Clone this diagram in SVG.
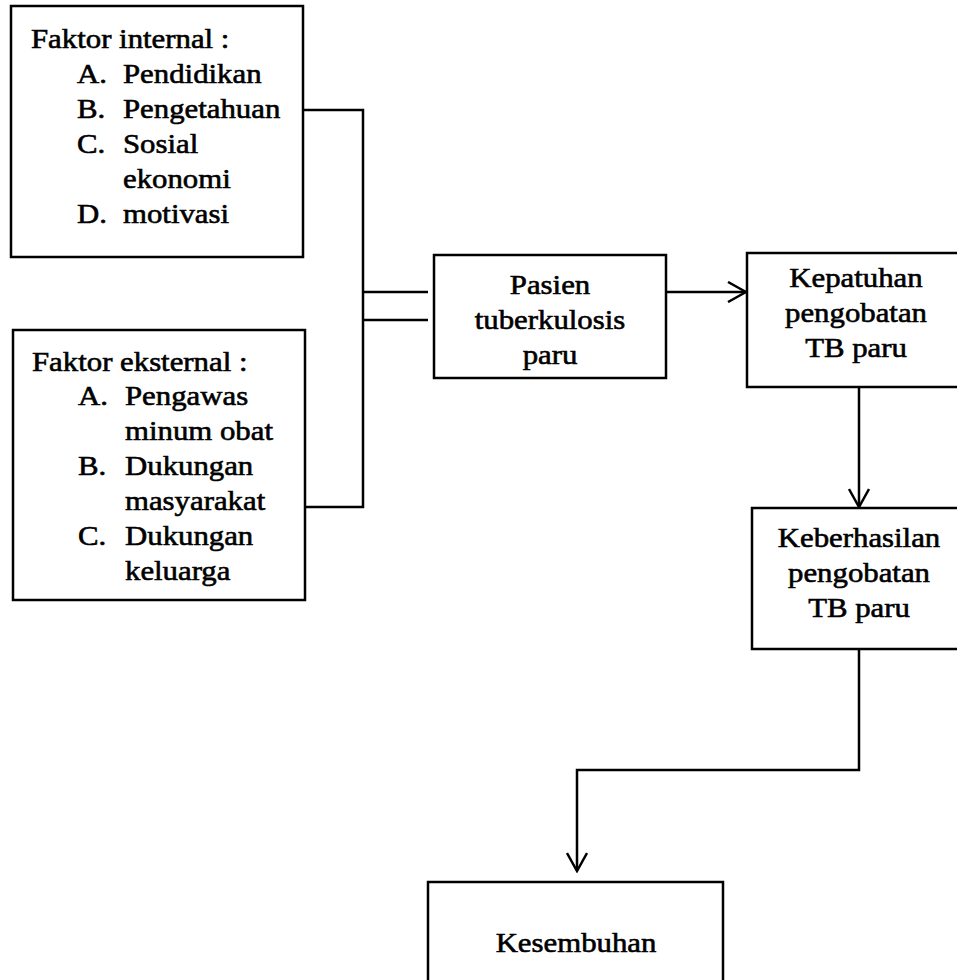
<svg xmlns="http://www.w3.org/2000/svg" width="957" height="980" viewBox="0 0 957 980">
<style>
.box { fill: #fff; stroke: #000; stroke-width: 2.5; }
.t { font-family: "Liberation Serif", "Times New Roman", serif; font-size: 28px; fill: #000; stroke: #000; stroke-width: 0.6; }
.c { text-anchor: middle; }
.ln { fill: none; stroke: #000; stroke-width: 2.5; }
</style>
<defs>
<marker id="arr" viewBox="0 0 22 22" refX="20" refY="11" markerWidth="22" markerHeight="22" markerUnits="userSpaceOnUse" orient="auto">
<path d="M2,1 L20,11 L2,21" fill="none" stroke="#000" stroke-width="2.5"/>
</marker>
</defs>
<rect width="957" height="980" fill="#fff"/>

<g id="connectors">
<polyline class="ln" points="303,110 363,110 363,507 305,507"/>
<line class="ln" x1="363" y1="292" x2="428" y2="292"/>
<line class="ln" x1="363" y1="320" x2="428" y2="320"/>
<line class="ln" x1="666" y1="292" x2="746" y2="292" marker-end="url(#arr)"/>
<line class="ln" x1="859" y1="387" x2="859" y2="507" marker-end="url(#arr)"/>
<polyline class="ln" points="859,649 859,770 577,770 577,871" marker-end="url(#arr)"/>
</g>

<g id="faktor-internal">
<rect class="box" x="11" y="6" width="292" height="251"/>
<text class="t" transform="translate(31 48) scale(1.1 1)">Faktor internal :</text>
<text class="t" transform="translate(77 83) scale(1.1 1)">A.</text>
<text class="t" transform="translate(123 83) scale(1.1 1)">Pendidikan</text>
<text class="t" transform="translate(77 118) scale(1.1 1)">B.</text>
<text class="t" transform="translate(123 118) scale(1.1 1)">Pengetahuan</text>
<text class="t" transform="translate(77 153) scale(1.1 1)">C.</text>
<text class="t" transform="translate(123 153) scale(1.1 1)">Sosial</text>
<text class="t" transform="translate(123 188) scale(1.1 1)">ekonomi</text>
<text class="t" transform="translate(77 223) scale(1.1 1)">D.</text>
<text class="t" transform="translate(123 223) scale(1.1 1)">motivasi</text>
</g>

<g id="faktor-eksternal">
<rect class="box" x="13" y="330" width="292" height="270"/>
<text class="t" transform="translate(32 371) scale(1.1 1)">Faktor eksternal :</text>
<text class="t" transform="translate(78 405) scale(1.1 1)">A.</text>
<text class="t" transform="translate(125 405) scale(1.1 1)">Pengawas</text>
<text class="t" transform="translate(125 440) scale(1.1 1)">minum obat</text>
<text class="t" transform="translate(78 475) scale(1.1 1)">B.</text>
<text class="t" transform="translate(125 475) scale(1.1 1)">Dukungan</text>
<text class="t" transform="translate(125 510) scale(1.1 1)">masyarakat</text>
<text class="t" transform="translate(78 545) scale(1.1 1)">C.</text>
<text class="t" transform="translate(125 545) scale(1.1 1)">Dukungan</text>
<text class="t" transform="translate(125 580) scale(1.1 1)">keluarga</text>
</g>

<g id="pasien">
<rect class="box" x="434" y="255" width="232" height="123"/>
<text class="t c" transform="translate(550 294) scale(1.1 1)">Pasien</text>
<text class="t c" transform="translate(550 329) scale(1.1 1)">tuberkulosis</text>
<text class="t c" transform="translate(550 364) scale(1.1 1)">paru</text>
</g>

<g id="kepatuhan">
<rect class="box" x="747" y="253" width="218" height="134"/>
<text class="t c" transform="translate(856 287) scale(1.1 1)">Kepatuhan</text>
<text class="t c" transform="translate(856 322) scale(1.1 1)">pengobatan</text>
<text class="t c" transform="translate(856 357) scale(1.1 1)">TB paru</text>
</g>

<g id="keberhasilan">
<rect class="box" x="752" y="508" width="215" height="141"/>
<text class="t c" transform="translate(859 547) scale(1.1 1)">Keberhasilan</text>
<text class="t c" transform="translate(859 582) scale(1.1 1)">pengobatan</text>
<text class="t c" transform="translate(859 617) scale(1.1 1)">TB paru</text>
</g>

<g id="kesembuhan">
<rect class="box" x="428" y="882" width="295" height="120"/>
<text class="t c" transform="translate(576 952) scale(1.1 1)">Kesembuhan</text>
</g>
</svg>
